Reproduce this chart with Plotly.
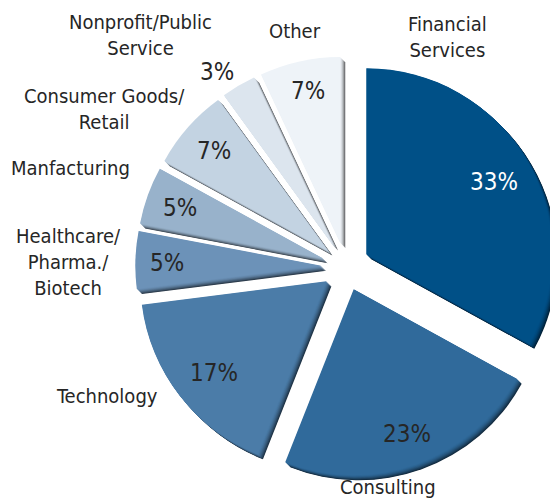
import math
import plotly.graph_objects as go

# Industry breakdown (percent of total)
industries = [
    "Financial<br>Services",
    "Consulting",
    "Technology",
    "Healthcare/<br>Pharma./<br>Biotech",
    "Manfacturing",
    "Consumer Goods/<br>Retail",
    "Nonprofit/Public<br>Service",
    "Other",
]
shares = [33, 23, 17, 5, 5, 7, 3, 7]
slice_colors = [
    "#005087", "#306a9b", "#4b7ca8", "#6c92b8",
    "#98b2cb", "#c3d3e2", "#dce5ee", "#eef3f8",
]
pct_text_colors = ["#ffffff"] + ["#262626"] * 7

# Figure / pie geometry (pixels)
W, H = 570, 500
CX, CY = 348, 269          # pie centre
R = 186                    # pie radius
PULL = 0.13                # explode fraction
BOX = 2 * R * (1 + PULL)   # square domain that yields radius R

# placement of the category names (pixel centres)
name_pos = [
    (447, 37), (388, 487), (107, 396), (68, 262),
    (70, 168), (104, 109), (140, 35), (295, 31),
]
# radial distance (pixels from centre) of each percentage label
pct_dist = [170, 175, 169, 181, 179, 178, 236, 182]
pct_angle_adj = [0, 0, 0, 0, 0, 0, -3, 0]

FONT = "DejaVu Sans Condensed, DejaVu Sans, sans-serif"


def domain_at(cx, cy):
    return dict(
        x=[(cx - BOX / 2) / W, (cx + BOX / 2) / W],
        y=[1 - (cy + BOX / 2) / H, 1 - (cy - BOX / 2) / H],
    )


def shade(hex_color, f):
    r, g, b = (int(hex_color[i:i + 2], 16) for i in (1, 3, 5))
    return "rgb({},{},{})".format(int(r * (1 - f)), int(g * (1 - f)), int(b * (1 - f)))


fig = go.Figure()

# stacked, slightly offset layers give each slice a soft darker bevel
# along its lower-right edges
n_layers = 11
max_off = 5.0
for k in range(n_layers):
    t = k / (n_layers - 1)          # 0 -> darkest, 1 -> face colour
    off = max_off * t
    f = 0.6 * (1 - t) ** 1.6
    top = k == n_layers - 1
    fig.add_trace(go.Pie(
        labels=industries,
        values=shares,
        sort=False,
        direction="clockwise",
        rotation=0,
        pull=[PULL] * len(shares),
        marker=dict(colors=[shade(c, f) for c in slice_colors], line=dict(width=0)),
        textinfo="none",
        hoverinfo="label+percent" if top else "skip",
        domain=domain_at(CX + max_off / 2 - off, CY + max_off / 2 - off),
        showlegend=False,
    ))

annotations = []
total = sum(shares)
cum = 0
for i, v in enumerate(shares):
    start = cum / total * 360
    cum += v
    end = cum / total * 360
    mid = math.radians((start + end) / 2 + pct_angle_adj[i])
    px = CX + pct_dist[i] * math.sin(mid)
    py = CY - pct_dist[i] * math.cos(mid)
    annotations.append(dict(
        x=px / W, y=1 - py / H, xref="paper", yref="paper",
        text="{}%".format(v), showarrow=False,
        xanchor="center", yanchor="middle",
        font=dict(family=FONT, size=24, color=pct_text_colors[i]),
    ))
    nx, ny = name_pos[i]
    annotations.append(dict(
        x=nx / W, y=1 - ny / H, xref="paper", yref="paper",
        text=industries[i], showarrow=False,
        xanchor="center", yanchor="middle", align="center",
        font=dict(family=FONT, size=20, color="#262626"),
    ))

fig.update_layout(
    width=W, height=H,
    margin=dict(l=0, r=0, t=0, b=0),
    paper_bgcolor="white",
    plot_bgcolor="white",
    showlegend=False,
    annotations=annotations,
)

fig.write_html("out.html")
